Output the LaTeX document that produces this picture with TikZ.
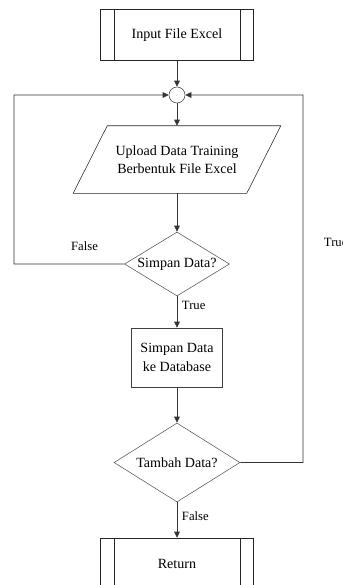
\documentclass[tikz,border=0pt]{standalone}
\usepackage{fontspec}
\setmainfont{Liberation Serif}
\usepackage{tikz}
\usetikzlibrary{shapes.geometric, arrows.meta, positioning}

\begin{document}
\begin{tikzpicture}[node distance=1.5cm, font=\fontsize{10}{13}\selectfont]
  \tikzstyle{subproc} = [rectangle, draw=black!85, minimum width=3.825cm, minimum height=1.275cm]
  \tikzstyle{process} = [rectangle, draw=black!75, minimum width=2.275cm, minimum height=1.475cm, align=center]
  \tikzstyle{io} = [rectangle, minimum width=4.325cm, minimum height=1.675cm, align=center]
  \tikzstyle{decision} = [diamond, draw=black!65, inner sep=0pt, aspect=1.6]
  \tikzstyle{joint} = [circle, draw=black!75, minimum size=0.4cm, inner sep=0pt]
  \tikzstyle{arrow} = [draw=black!80, -{Triangle[length=1.5mm, width=1.4mm]}]
  \tikzstyle{lbl} = [font=\fontsize{9}{11}\selectfont]
  \useasboundingbox (0,0) rectangle (8.575,-14.625);
  \node[subproc] (input) at (4.425,-0.875) {Input File Excel};
  \node[joint, below of=input] (join) {};
  \node[io, below of=join, node distance=1.6125cm] (upload) {Upload Data Training\\Berbentuk File Excel};
  \node[decision, below of=upload, node distance=2.6125cm, minimum width=2.625cm, minimum height=1.6cm] (simpan) {Simpan Data?};
  \node[process, below of=simpan, node distance=2.3375cm] (save) {Simpan Data\\ke Database};
  \node[decision, below of=save, node distance=2.625cm, minimum width=3.15cm, minimum height=1.975cm] (tambah) {Tambah Data?};
  \node[subproc, below of=tambah, node distance=2.525cm] (return) {Return};
  % jajaran genjang input/output
  \draw[black!85] ([xshift=0.425cm]upload.north west) -- ([xshift=0.425cm]upload.north east)
    -- ([xshift=-0.425cm]upload.south east) -- ([xshift=-0.425cm]upload.south west) -- cycle;
  % garis dalam subproses
  \draw[black!85] ([xshift=0.35cm]input.north west) -- ([xshift=0.35cm]input.south west);
  \draw[black!85] ([xshift=-0.35cm]input.north east) -- ([xshift=-0.35cm]input.south east);
  \draw[black!85] ([xshift=0.35cm]return.north west) -- ([xshift=0.35cm]return.south west);
  \draw[black!85] ([xshift=-0.35cm]return.north east) -- ([xshift=-0.35cm]return.south east);
  \coordinate (loopL) at (0.35,-2.375);
  \coordinate (loopR) at (7.575,-2.375);
  \draw[arrow] (input) -- (join);
  \draw[arrow] (join) -- (upload);
  \draw[arrow] (upload) -- (simpan);
  \draw[arrow] (simpan) -- node[lbl, right, pos=0.3] {True} (save);
  \draw[arrow] (save) -- (tambah);
  \draw[arrow] (tambah) -- node[lbl, right, pos=0.4] {False} (return);
  \draw[arrow] (simpan.west) -| node[lbl, pos=0.18, above=0.2cm] {False} (loopL) -- (join.west);
  \draw[arrow] (tambah.east) -| node[lbl, pos=0.8, right=0.4cm] {True} (loopR) -- (join.east);
\end{tikzpicture}
\end{document}
